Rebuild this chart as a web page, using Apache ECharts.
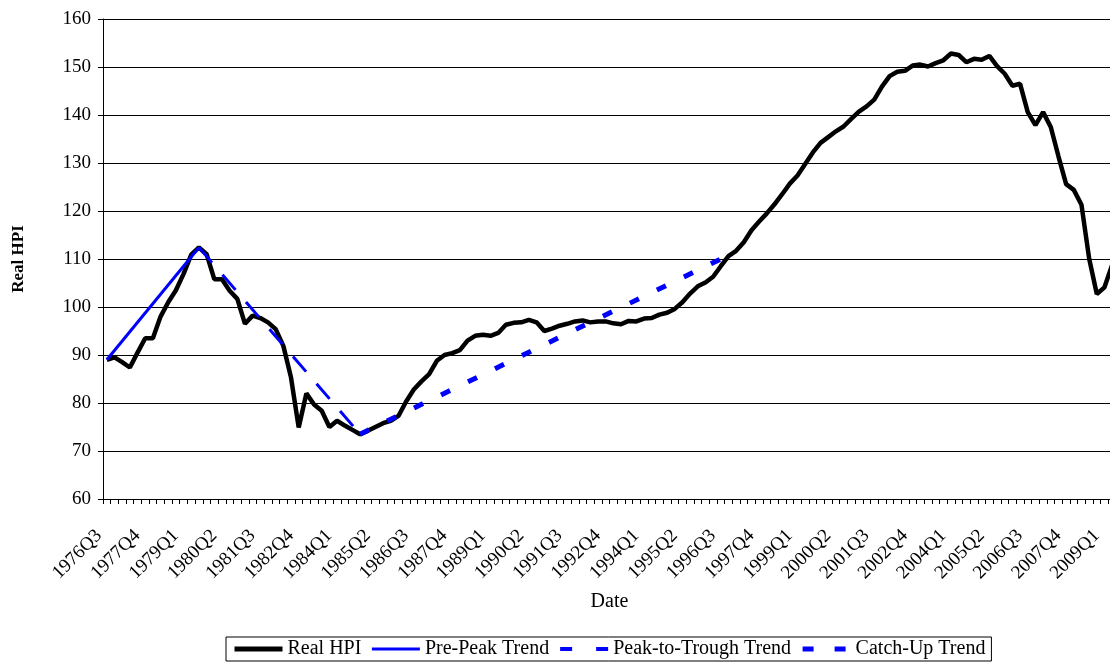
<!DOCTYPE html>
<html>
<head>
<meta charset="utf-8">
<title>Real HPI</title>
<script src="https://cdn.jsdelivr.net/npm/echarts@6/dist/echarts.min.js"></script>
<style>
  html, body { margin: 0; padding: 0; background: #fff; }
  #chart { width: 1110px; height: 664px; }
</style>
</head>
<body>
<div id="chart"></div>
<script>
// quarters on the category axis
var quarters = [
  '1976Q3','1976Q4',
  '1977Q1','1977Q2','1977Q3','1977Q4',
  '1978Q1','1978Q2','1978Q3','1978Q4',
  '1979Q1','1979Q2','1979Q3','1979Q4',
  '1980Q1','1980Q2','1980Q3','1980Q4',
  '1981Q1','1981Q2','1981Q3','1981Q4',
  '1982Q1','1982Q2','1982Q3','1982Q4',
  '1983Q1','1983Q2','1983Q3','1983Q4',
  '1984Q1','1984Q2','1984Q3','1984Q4',
  '1985Q1','1985Q2','1985Q3','1985Q4',
  '1986Q1','1986Q2','1986Q3','1986Q4',
  '1987Q1','1987Q2','1987Q3','1987Q4',
  '1988Q1','1988Q2','1988Q3','1988Q4',
  '1989Q1','1989Q2','1989Q3','1989Q4',
  '1990Q1','1990Q2','1990Q3','1990Q4',
  '1991Q1','1991Q2','1991Q3','1991Q4',
  '1992Q1','1992Q2','1992Q3','1992Q4',
  '1993Q1','1993Q2','1993Q3','1993Q4',
  '1994Q1','1994Q2','1994Q3','1994Q4',
  '1995Q1','1995Q2','1995Q3','1995Q4',
  '1996Q1','1996Q2','1996Q3','1996Q4',
  '1997Q1','1997Q2','1997Q3','1997Q4',
  '1998Q1','1998Q2','1998Q3','1998Q4',
  '1999Q1','1999Q2','1999Q3','1999Q4',
  '2000Q1','2000Q2','2000Q3','2000Q4',
  '2001Q1','2001Q2','2001Q3','2001Q4',
  '2002Q1','2002Q2','2002Q3','2002Q4',
  '2003Q1','2003Q2','2003Q3','2003Q4',
  '2004Q1','2004Q2','2004Q3','2004Q4',
  '2005Q1','2005Q2','2005Q3','2005Q4',
  '2006Q1','2006Q2','2006Q3','2006Q4',
  '2007Q1','2007Q2','2007Q3','2007Q4',
  '2008Q1','2008Q2','2008Q3','2008Q4',
  '2009Q1','2009Q2'
];

// real house price index, one value per quarter
var realHpi = [
  89.0, 89.5,
  88.5, 87.4, 90.5, 93.5,
  93.5, 98.0, 101.0, 103.5,
  106.9, 110.9, 112.4, 111.0,
  105.8, 105.8, 103.4, 101.7,
  96.5, 98.2, 97.7, 96.8,
  95.4, 91.9, 85.3, 74.9,
  82.0, 79.7, 78.4, 75.0,
  76.3, 75.3, 74.4, 73.5,
  74.2, 75.0, 75.8, 76.3,
  77.3, 80.3, 82.8, 84.5,
  86.0, 88.8, 90.0, 90.4,
  91.0, 93.0, 94.0, 94.2,
  94.0, 94.6, 96.3, 96.7,
  96.8, 97.3, 96.8, 95.0,
  95.5, 96.1, 96.5, 97.0,
  97.2, 96.8, 97.0, 97.0,
  96.6, 96.4, 97.1, 97.0,
  97.6, 97.7, 98.4, 98.8,
  99.6, 101.0, 102.8, 104.3,
  105.1, 106.3, 108.5, 110.6,
  111.7, 113.5, 116.0, 117.8,
  119.5, 121.4, 123.5, 125.7,
  127.4, 129.8, 132.2, 134.2,
  135.4, 136.6, 137.6, 139.2,
  140.7, 141.8, 143.2, 145.9,
  148.1, 149.0, 149.2, 150.3,
  150.5, 150.1, 150.8, 151.4,
  152.8, 152.5, 151.0, 151.7,
  151.5, 152.3, 150.2, 148.6,
  146.1, 146.5, 140.6, 137.9,
  140.6, 137.5, 131.4, 125.6,
  124.4, 121.3, 110.1, 102.7,
  104.1, 108.8
];

// trend lines: [quarter, value] end points
var prePeakTrend = [['1976Q3', 89.0], ['1979Q3', 112.4]];
var peakToTroughTrend = [['1979Q3', 112.4], ['1984Q4', 73.5]];
var catchUpTrend = [['1984Q4', 73.5], ['1996Q3', 110.0]];

var yTicks = { min: 60, max: 160, step: 10 };

var font = "'Liberation Serif', 'Times New Roman', serif";

var chart = echarts.init(document.getElementById('chart'), null, { renderer: 'canvas' });

// legend samples are plain lines, no marker in the middle
var noMarker = { opacity: 0 };

chart.setOption({
  animation: false,
  backgroundColor: '#fff',
  textStyle: { fontFamily: font, color: '#000' },
  grid: {
    left: 103,
    top: 19,
    right: -6,
    bottom: 165,
    containLabel: false,
    outerBoundsMode: 'none'
  },
  legend: {
    left: 226,
    top: 637,
    orient: 'horizontal',
    padding: [2, 6],
    itemGap: 9,
    itemWidth: 48,
    itemHeight: 18,
    borderColor: '#000',
    borderWidth: 1,
    textStyle: { fontFamily: font, fontSize: 20, color: '#000' },
    data: [
      { name: 'Real HPI', itemStyle: noMarker, lineStyle: { width: 5, color: '#000' } },
      { name: 'Pre-Peak Trend', itemStyle: noMarker, lineStyle: { width: 3, color: '#0000ff' } },
      { name: 'Peak-to-Trough Trend', itemStyle: noMarker, lineStyle: { width: 4, color: '#0000ff', type: [12, 24] } },
      { name: 'Catch-Up Trend', itemStyle: noMarker, lineStyle: { width: 5, color: '#0000ff', type: [11, 21] } }
    ]
  },
  xAxis: {
    type: 'category',
    data: quarters,
    boundaryGap: true,
    name: 'Date',
    nameLocation: 'middle',
    nameGap: 93,
    nameTextStyle: { fontFamily: font, fontSize: 20, color: '#000' },
    axisLine: { lineStyle: { color: '#000', width: 1 } },
    axisTick: { show: true, interval: 0, length: 5, lineStyle: { color: '#000' } },
    axisLabel: {
      interval: 4,
      rotate: 45,
      margin: 26,
      padding: [0, 11, 0, 0],
      fontFamily: font,
      fontSize: 19,
      color: '#000'
    },
    splitLine: { show: false }
  },
  yAxis: {
    type: 'value',
    min: yTicks.min,
    max: yTicks.max,
    interval: yTicks.step,
    name: 'Real HPI',
    nameLocation: 'middle',
    nameGap: 76,
    nameRotate: 90,
    nameTextStyle: { fontFamily: font, fontSize: 17, fontWeight: 'bold', color: '#000' },
    axisLine: { show: true, lineStyle: { color: '#000', width: 1 } },
    axisTick: { show: true, length: 5, lineStyle: { color: '#000' } },
    axisLabel: { margin: 12, fontFamily: font, fontSize: 19, color: '#000' },
    splitLine: { lineStyle: { color: '#000', width: 1 } }
  },
  series: [
    {
      name: 'Real HPI',
      type: 'line',
      data: realHpi,
      symbol: 'none',
      lineStyle: { color: '#000', width: 4.5 },
      itemStyle: { color: '#000' }
    },
    {
      name: 'Pre-Peak Trend',
      type: 'line',
      data: prePeakTrend,
      symbol: 'none',
      lineStyle: { color: '#0000ff', width: 3 },
      itemStyle: { color: '#0000ff' }
    },
    {
      name: 'Peak-to-Trough Trend',
      type: 'line',
      data: peakToTroughTrend,
      symbol: 'none',
      lineStyle: { color: '#0000ff', width: 3, type: [20, 16] },
      itemStyle: { color: '#0000ff' }
    },
    {
      name: 'Catch-Up Trend',
      type: 'line',
      data: catchUpTrend,
      symbol: 'none',
      lineStyle: { color: '#0000ff', width: 5, type: [10, 20] },
      itemStyle: { color: '#0000ff' }
    }
  ]
});
</script>
</body>
</html>
